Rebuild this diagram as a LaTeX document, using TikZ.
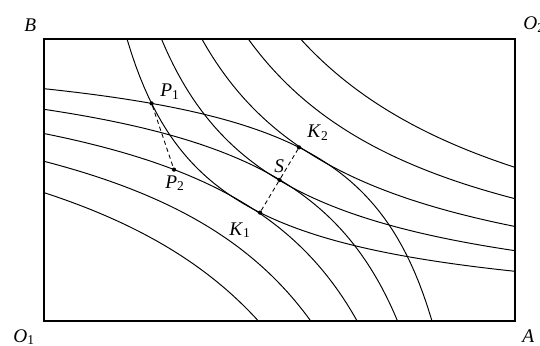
\documentclass[tikz,border=0pt]{standalone}
\usepackage{fontspec}
\setmainfont{Liberation Serif}
\tikzset{
    edgeworthbox/.style={
        draw=black,
        line width=0.6pt
    },
    edgeworthcurve/.style={
        draw=black,
        line width=0.55pt,
        samples=90
    },
    edgeworthdot/.style={
        circle,
        fill=black,
        inner sep=0pt,
        minimum size=2.4pt
    },
    edgeworthdash/.style={
        draw=black,
        line width=0.5pt,
        dash pattern=on 2.4pt off 1.8pt
    },
    edgeworthlabel/.style={
        inner sep=0pt,
        anchor=base west,
        font=\fontsize{11}{13}\selectfont
    }
}
\newcommand{\ptname}[2]{\textit{#1}\textsubscript{#2}}

\begin{document}
\begin{tikzpicture}[x=0.02cm, y=0.02cm]
        \useasboundingbox (-44,-24) rectangle (496,321);
        \draw[edgeworthbox] (0,0) rectangle (471,282);

        % indifference curves of both consumers
        \foreach \s in {153,182,211,240,269} {
            \draw[edgeworthcurve, domain={\s*(\s/282)}:471]
                plot (\x, {\s*(\s/\x)});
            \draw[edgeworthcurve, domain=0:{471-\s*(\s/282)}]
                plot (\x, {282-\s*(\s/(471-\x))});
        }

        \node[edgeworthdot] (P1) at (107.6,217.6) {};
        \node[edgeworthdot] (P2) at (130,151.4) {};
        \node[edgeworthdot] (K1) at (216,108.4) {};
        \node[edgeworthdot] (S) at (235.5,141) {};
        \node[edgeworthdot] (K2) at (255,173.6) {};

        \draw[edgeworthdash] (P1) -- (P2);
        \draw[edgeworthdash] (K1) -- (S) -- (K2);

        \node[edgeworthlabel] (labelB) at (-20,289) {\textit{B}};
        \node[edgeworthlabel] (labelO2) at (479,291) {\ptname{O}{2}};
        \node[edgeworthlabel] (labelO1) at (-31,-21) {\ptname{O}{1}};
        \node[edgeworthlabel] (labelA) at (478,-21) {\textit{A}};
        \node[edgeworthlabel] (labelP1) at (116,224) {\ptname{P}{1}};
        \node[edgeworthlabel] (labelP2) at (121,133) {\ptname{P}{2}};
        \node[edgeworthlabel] (labelK1) at (185,86) {\ptname{K}{1}};
        \node[edgeworthlabel] (labelK2) at (263,183) {\ptname{K}{2}};
        \node[edgeworthlabel] (labelS) at (230,149) {\textit{S}};
    \end{tikzpicture}
\end{document}
